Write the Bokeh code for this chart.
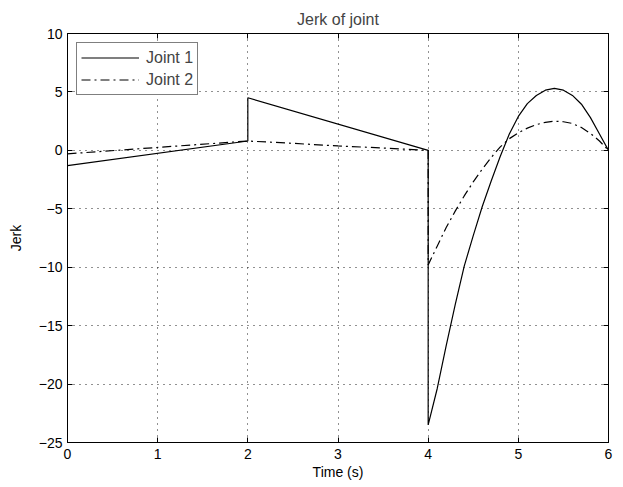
from bokeh.plotting import figure
from bokeh.models import Range1d, LinearAxis, FixedTicker, CustomJSTickFormatter, Legend, LegendItem
from bokeh.embed import file_html
from bokeh.resources import INLINE

# ---- data ----
t1 = [0.0, 2.0, 2.0, 4.0, 4.0, 4.1, 4.2, 4.3, 4.4, 4.5, 4.6, 4.7, 4.8, 4.9, 5.0,
      5.1, 5.2, 5.3, 5.4, 5.5, 5.6, 5.7, 5.8, 5.9, 6.0]
jerk1 = [-1.3, 0.8, 4.5, 0.0, -23.5, -20.4, -16.7, -13.2, -9.9, -7.3, -4.8, -2.6, -0.5, 1.4, 2.9,
         4.0, 4.7, 5.15, 5.3, 5.15, 4.7, 3.95, 2.8, 1.4, 0.0]
t2 = [0.0, 2.0, 2.5, 3.0, 3.5, 4.0, 4.0, 4.1, 4.2, 4.3, 4.4, 4.5, 4.6, 4.7, 4.8, 4.9, 5.0,
      5.1, 5.2, 5.3, 5.4, 5.5, 5.6, 5.7, 5.8, 5.9, 6.0]
jerk2 = [-0.3, 0.8, 0.6, 0.38, 0.2, 0.0, -9.8, -8.2, -6.6, -5.2, -3.9, -2.7, -1.6, -0.6, 0.3, 1.0, 1.5,
         1.9, 2.2, 2.4, 2.5, 2.45, 2.3, 1.95, 1.45, 0.8, 0.0]
x_ticks = [0, 1, 2, 3, 4, 5, 6]
y_ticks = [-25, -20, -15, -10, -5, 0, 5, 10]
series_labels = ["Joint 1", "Joint 2"]

FONT = "Liberation Sans"

p = figure(width=616, height=482, output_backend="svg", toolbar_location=None,
           x_range=Range1d(0, 6), y_range=Range1d(-25, 10),
           title="Jerk of joint", min_border_left=67, min_border_right=8,
           min_border_top=33, min_border_bottom=10)
p.title.align = "center"
p.title.text_font = FONT
p.title.text_font_size = "16px"
p.title.text_font_style = "normal"
p.title.standoff = 12

p.background_fill_color = "white"
p.border_fill_color = "white"
p.outline_line_color = "black"
p.outline_line_width = 1

for ax in (p.xaxis[0], p.yaxis[0]):
    ax.major_label_text_font = FONT
    ax.major_label_text_font_size = "14px"
    ax.major_label_text_color = "black"
    ax.axis_label_text_font = FONT
    ax.axis_label_text_font_size = "14px"
    ax.axis_label_text_font_style = "normal"
    ax.axis_label_text_color = "black"
    ax.axis_line_color = "black"
    ax.major_tick_in = 5
    ax.major_tick_out = 0
    ax.minor_tick_line_color = None
    ax.major_tick_line_color = "black"

p.xaxis[0].ticker = FixedTicker(ticks=x_ticks)
p.yaxis[0].ticker = FixedTicker(ticks=y_ticks)
p.xaxis[0].axis_label = "Time (s)"
p.yaxis[0].axis_label = "Jerk"
p.xaxis[0].major_label_standoff = 6
p.yaxis[0].major_label_standoff = 5
p.xaxis[0].axis_label_standoff = 2
p.yaxis[0].axis_label_standoff = 12

blank = CustomJSTickFormatter(code="return ''")
top = LinearAxis(ticker=FixedTicker(ticks=x_ticks), formatter=blank,
                 major_tick_in=5, major_tick_out=0, minor_tick_line_color=None,
                 major_label_standoff=0, axis_line_color="black")
right = LinearAxis(ticker=FixedTicker(ticks=y_ticks), formatter=blank,
                   major_tick_in=5, major_tick_out=0, minor_tick_line_color=None,
                   major_label_standoff=0, axis_line_color="black")
p.add_layout(top, "above")
p.add_layout(right, "right")

p.xgrid.ticker = FixedTicker(ticks=x_ticks)
p.ygrid.ticker = FixedTicker(ticks=y_ticks)
for g in (p.xgrid[0], p.ygrid[0]):
    g.grid_line_color = "#222222"
    g.grid_line_dash = "1 5"
    g.grid_line_width = 1

r1 = p.line(t1, jerk1, line_color="black", line_width=1.2)
r2 = p.line(t2, jerk2, line_color="black", line_width=1.2, line_dash="9 4 2 4")

legend = Legend(items=[LegendItem(label=series_labels[0], renderers=[r1]),
                       LegendItem(label=series_labels[1], renderers=[r2])],
                location="top_left")
legend.margin = 9
legend.padding = 4
legend.spacing = 1
legend.glyph_width = 58
legend.glyph_height = 21
legend.label_standoff = 7
legend.label_text_font = FONT
legend.label_text_font_size = "16px"
legend.label_height = 21
legend.border_line_color = "black"
legend.border_line_width = 1
legend.background_fill_alpha = 1
p.add_layout(legend)

open("out.html", "w").write(file_html(p, INLINE))
